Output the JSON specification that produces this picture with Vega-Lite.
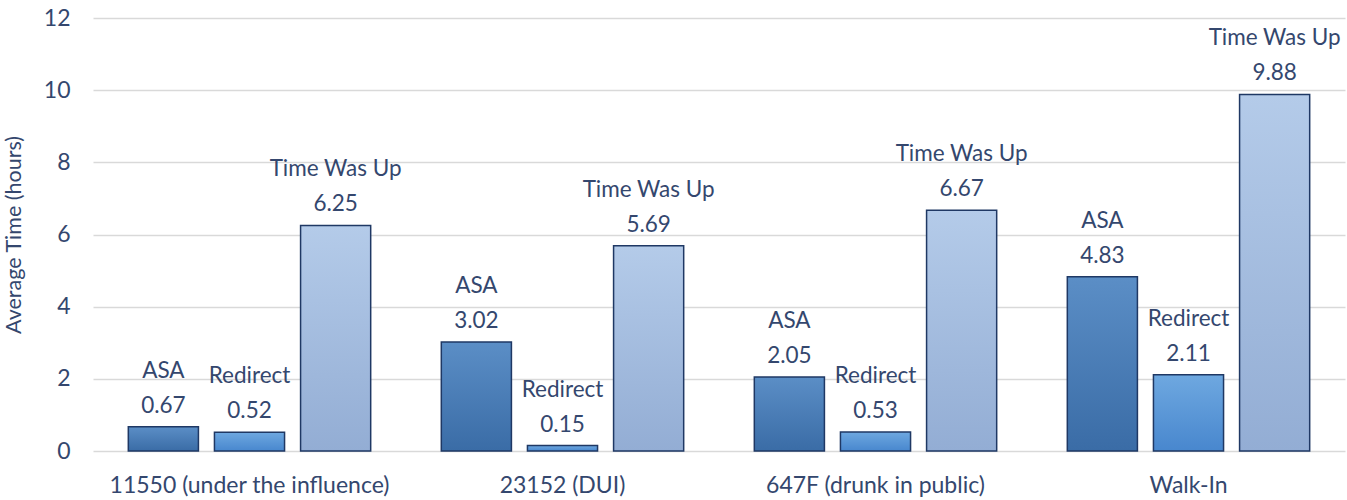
{
  "$schema": "https://vega.github.io/schema/vega-lite/v6.json",
  "autosize": {"type": "none"},
  "width": 1252,
  "height": 433,
  "padding": {"left": 93, "top": 18, "right": 2, "bottom": 49},
  "background": "white",
  "config": {
    "view": {"stroke": null},
    "font": "Lato",
    "axis": {"labelColor": "#34476e", "titleColor": "#34476e", "labelFont": "Lato", "titleFont": "Lato"}
  },
  "data": {
    "values": [
      {"category": "11550 (under the influence)", "series": "ASA", "value": 0.67},
      {"category": "11550 (under the influence)", "series": "Redirect", "value": 0.52},
      {"category": "11550 (under the influence)", "series": "Time Was Up", "value": 6.25},
      {"category": "23152 (DUI)", "series": "ASA", "value": 3.02},
      {"category": "23152 (DUI)", "series": "Redirect", "value": 0.15},
      {"category": "23152 (DUI)", "series": "Time Was Up", "value": 5.69},
      {"category": "647F (drunk in public)", "series": "ASA", "value": 2.05},
      {"category": "647F (drunk in public)", "series": "Redirect", "value": 0.53},
      {"category": "647F (drunk in public)", "series": "Time Was Up", "value": 6.67},
      {"category": "Walk-In", "series": "ASA", "value": 4.83},
      {"category": "Walk-In", "series": "Redirect", "value": 2.11},
      {"category": "Walk-In", "series": "Time Was Up", "value": 9.88}
    ]
  },
  "encoding": {
    "x": {
      "field": "category", "type": "nominal", "sort": null,
      "scale": {"paddingInner": 0, "paddingOuter": 0},
      "axis": {"title": null, "labelAngle": 0, "labelFontSize": 23, "labelPadding": 23, "labelLimit": 0, "ticks": false, "domain": false}
    },
    "xOffset": {
      "field": "series", "type": "nominal",
      "scale": {"domain": ["ASA", "Redirect", "Time Was Up"], "paddingInner": 0.186, "paddingOuter": 0.41}
    },
    "y": {
      "field": "value", "type": "quantitative",
      "scale": {"domain": [0, 12], "nice": false},
      "axis": {
        "title": "Average Time (hours)", "titleFontSize": 21.5, "titleFontWeight": "normal", "titlePadding": 18,
        "values": [0, 2, 4, 6, 8, 10, 12], "labelFontSize": 23, "labelPadding": 23,
        "ticks": false, "domain": false, "gridColor": "#d9d9d9", "gridWidth": 1.5
      }
    }
  },
  "layer": [
    {
      "transform": [{"filter": "datum.series === 'ASA'"}],
      "mark": {"type": "bar", "stroke": "#1f3864", "strokeWidth": 1.5,
        "fill": {"gradient": "linear", "x1": 0, "y1": 0, "x2": 0, "y2": 1,
          "stops": [{"offset": 0, "color": "#5b8ec6"}, {"offset": 1, "color": "#3a6ca6"}]}}
    },
    {
      "transform": [{"filter": "datum.series === 'Redirect'"}],
      "mark": {"type": "bar", "stroke": "#1f3864", "strokeWidth": 1.5,
        "fill": {"gradient": "linear", "x1": 0, "y1": 0, "x2": 0, "y2": 1,
          "stops": [{"offset": 0, "color": "#6ea8e0"}, {"offset": 1, "color": "#4887ce"}]}}
    },
    {
      "transform": [{"filter": "datum.series === 'Time Was Up'"}],
      "mark": {"type": "bar", "stroke": "#1f3864", "strokeWidth": 1.5,
        "fill": {"gradient": "linear", "x1": 0, "y1": 0, "x2": 0, "y2": 1,
          "stops": [{"offset": 0, "color": "#b4cbe9"}, {"offset": 1, "color": "#93add4"}]}}
    },
    {
      "mark": {"type": "text", "baseline": "middle", "dy": -21, "fontSize": 22.5, "color": "#34476e"},
      "encoding": {"text": {"field": "value", "type": "quantitative", "format": ".2f"}}
    },
    {
      "mark": {"type": "text", "baseline": "middle", "dy": -56, "fontSize": 22.5, "color": "#34476e"},
      "encoding": {"text": {"field": "series", "type": "nominal"}}
    }
  ]
}
